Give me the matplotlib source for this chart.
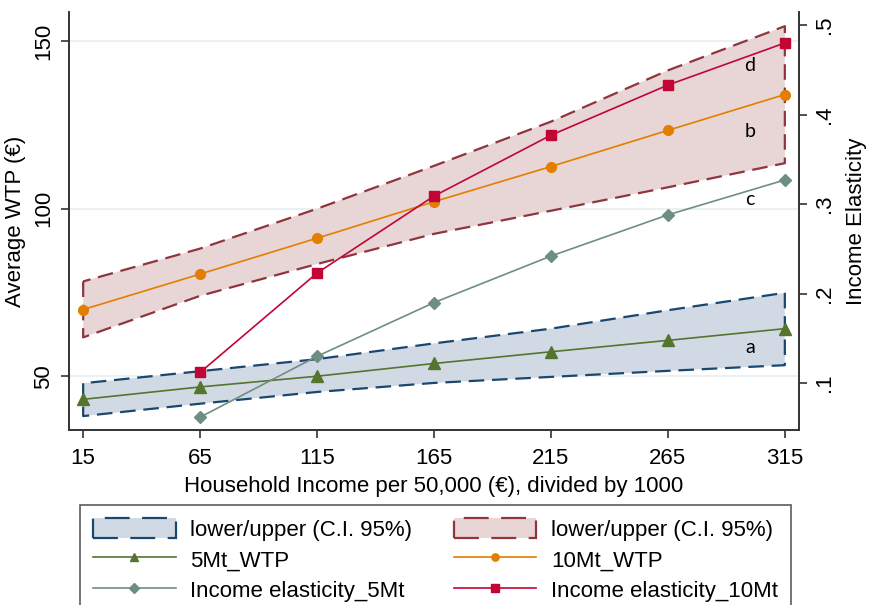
import matplotlib as mpl
import matplotlib.pyplot as plt

# 기본 폰트
mpl.rc('font', family=['Liberation Sans', 'DejaVu Sans'])

income = [15, 65, 115, 165, 215, 265, 315]

# 5Mt : WTP + 95% CI
wtp_5mt = [43.1, 46.8, 50.0, 53.8, 57.3, 60.7, 64.2]
ci_5mt_lo = [38.1, 41.8, 45.3, 48.0, 49.8, 51.6, 53.3]
ci_5mt_hi = [47.9, 51.5, 55.1, 59.8, 64.2, 69.7, 74.9]

# 10Mt : WTP + 95% CI
wtp_10mt = [69.9, 80.5, 91.2, 102.1, 112.6, 123.4, 134.1]
ci_10mt_lo = [61.6, 74.0, 83.5, 92.5, 99.4, 106.4, 113.6]
ci_10mt_hi = [78.3, 88.1, 100.0, 112.8, 126.0, 141.3, 154.5]

# income elasticity (right axis), 15 has no value
elast_income = [65, 115, 165, 215, 265, 315]
elast_5mt = [0.062, 0.130, 0.190, 0.242, 0.288, 0.327]
elast_10mt = [0.112, 0.223, 0.309, 0.377, 0.433, 0.480]

curve_tags = ['d', 'b', 'c', 'a']
tag_y = [142.8, 123.1, 102.7, 58.7]

navy = '#1a476f'
maroon = '#90353b'
fs = 16

fig = plt.figure(figsize=(8.75, 6.05), dpi=100)
ax = fig.add_axes([0.079, 0.289, 0.834, 0.691])
ax2 = ax.twinx()

ax.yaxis.grid(True, color='#e6eff2', linewidth=1.2)
ax.set_axisbelow(True)

h_ci5 = ax.fill_between(income, ci_5mt_lo, ci_5mt_hi, facecolor='#d1dae4',
                        edgecolor=navy, linewidth=1.6, linestyle=(0, (7, 3.5)),
                        label='lower/upper (C.I. 95%)')
h_ci10 = ax.fill_between(income, ci_10mt_lo, ci_10mt_hi, facecolor='#e8d5d6',
                         edgecolor=maroon, linewidth=1.6, linestyle=(0, (7, 3.5)),
                         label='lower/upper (C.I. 95%)')
h_w5, = ax.plot(income, wtp_5mt, color='#55752f', marker='^', ms=8.5, lw=1.2,
                label='5Mt_WTP')
h_w10, = ax.plot(income, wtp_10mt, color='#e37e00', marker='o', ms=7, lw=1.2,
                 label='10Mt_WTP')

h_e5, = ax2.plot(elast_income, elast_5mt, color='#6e8e84', marker='D', ms=6.5, lw=1.2,
                 label='Income elasticity_5Mt')
h_e10, = ax2.plot(elast_income, elast_10mt, color='#c10534', marker='s', ms=7, lw=1.2,
                  label='Income elasticity_10Mt')

for t, y in zip(curve_tags, tag_y):
    ax.text(300, y, t, fontsize=14, family='Lato', ha='center', va='center')

ax.set_xlim(9, 321)
ax.set_ylim(33.9, 158.7)
ax2.set_ylim(0.0475, 0.5145)

ax.set_xticks(income)
ax.set_yticks([50, 100, 150])
ax2.set_yticks([0.1, 0.2, 0.3, 0.4, 0.5])
ax2.set_yticklabels(['.1', '.2', '.3', '.4', '.5'])

for a in (ax, ax2):
    a.spines['top'].set_visible(False)
    for s in a.spines.values():
        s.set_color('#333333')
        s.set_linewidth(1.2)
    a.tick_params(labelsize=fs, length=6, width=1.2, color='#333333', pad=5)
ax.tick_params(axis='x', pad=7)
ax.tick_params(axis='y', labelrotation=90)
ax2.tick_params(axis='y', labelrotation=90)
for lbl in ax.get_yticklabels() + ax2.get_yticklabels():
    lbl.set_va('center')

ax.set_xlabel('Household Income per 50,000 (€), divided by 1000', fontsize=fs, labelpad=5)
ax.set_ylabel('Average WTP (€)', fontsize=fs, labelpad=5)
ax2.set_ylabel('Income Elasticity', fontsize=fs, labelpad=8)

handles = [h_ci5, h_w5, h_e5, h_ci10, h_w10, h_e10]
leg = fig.legend(handles=handles, labels=[h.get_label() for h in handles],
                 ncol=2, loc='upper left', bbox_to_anchor=(80 / 875, 1 - 505 / 605),
                 fontsize=fs, frameon=True, fancybox=False, markerscale=0.75,
                 edgecolor='#333333', handlelength=3.7, handleheight=1.0,
                 labelspacing=0.35, columnspacing=1.9, borderaxespad=0.0,
                 handletextpad=0.65, borderpad=0.6)
leg.get_frame().set_linewidth(1.2)

fig.savefig('out.png', dpi=100)
